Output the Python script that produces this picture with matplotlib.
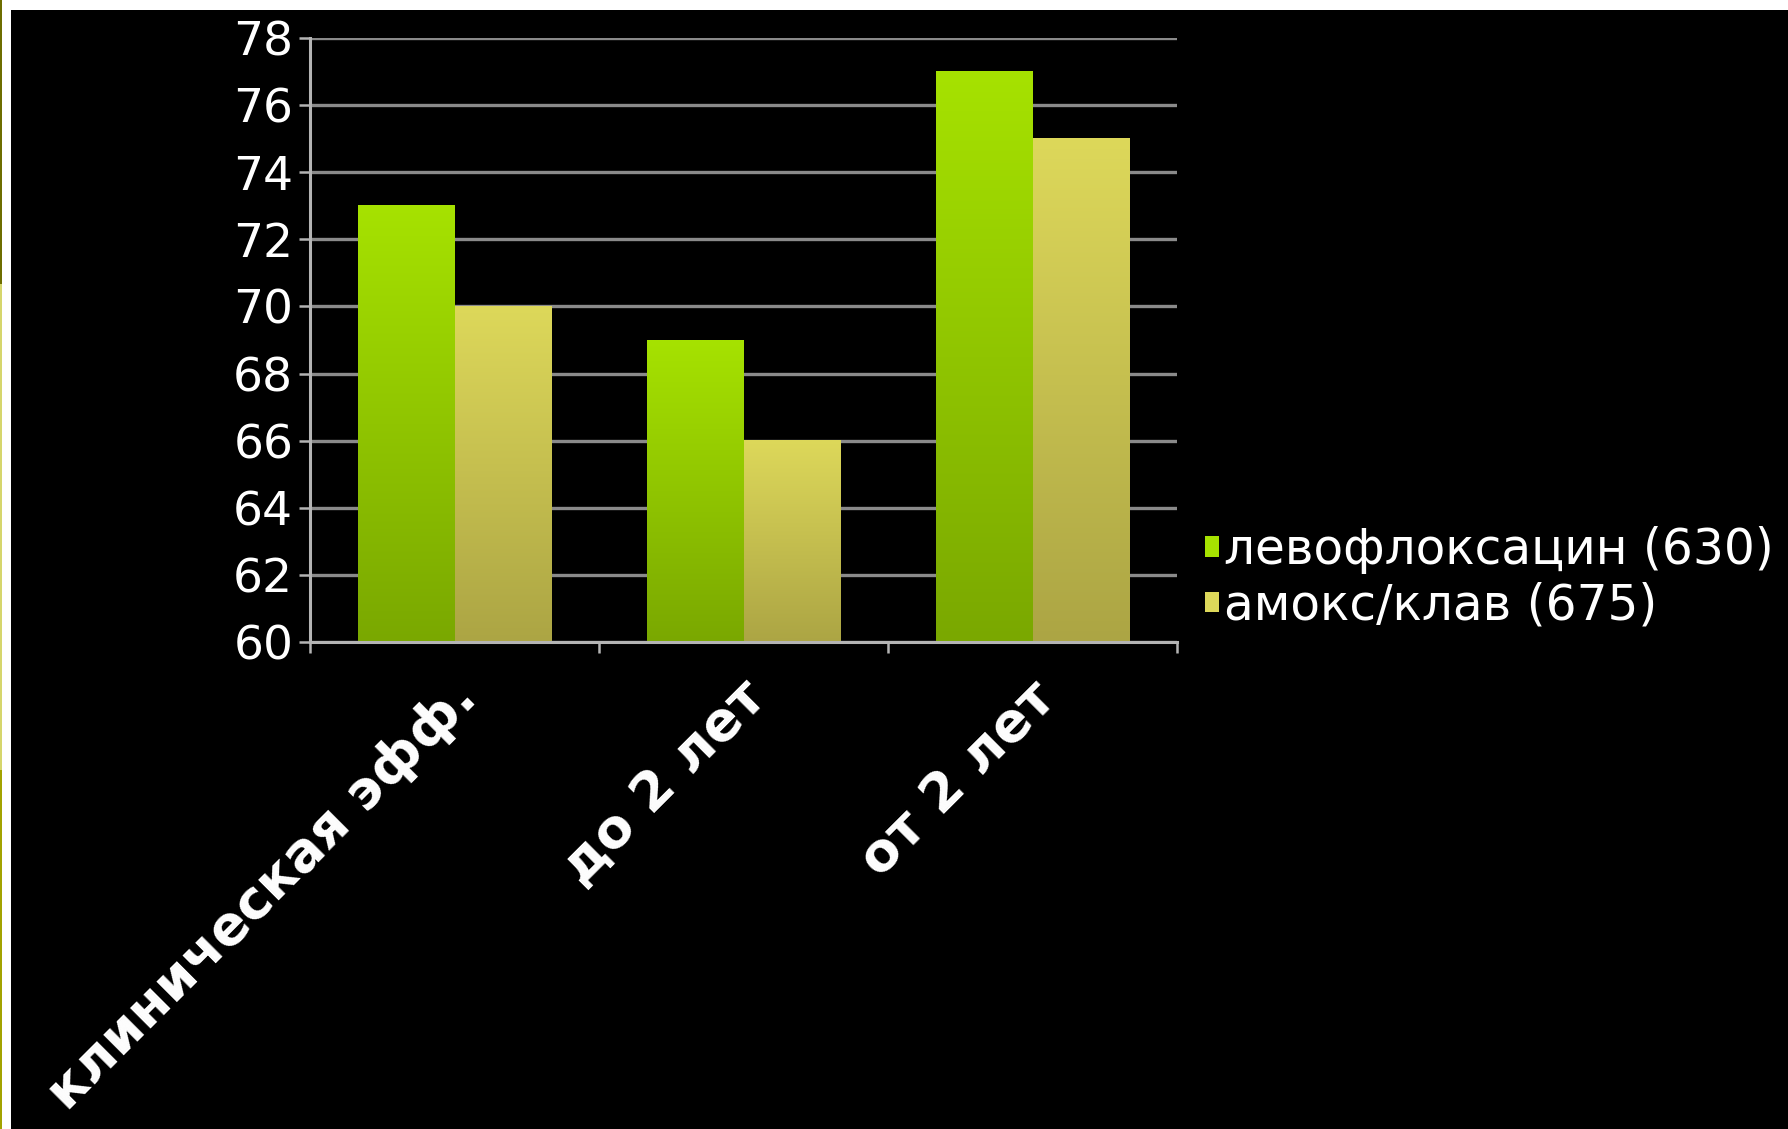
import matplotlib
matplotlib.use("Agg")
import matplotlib.pyplot as plt
import numpy as np
from matplotlib.colors import LinearSegmentedColormap
from matplotlib.patches import Patch, Rectangle
from matplotlib.transforms import ScaledTranslation

categories = ["клиническая эфф.", "до 2 лет", "от 2 лет"]
series_names = ["левофлоксацин (630)", "амокс/клав (675)"]
levo_values = [73, 69, 77]
amox_values = [70, 66, 75]
y_ticks = [60, 62, 64, 66, 68, 70, 72, 74, 76, 78]

# bottom/top colours of the vertical bar gradients
green_shades = ("#7aa800", "#a6e200")
yellow_shades = ("#aca544", "#ddd85a")

plt.rcParams["font.family"] = ["DejaVu Sans"]

fig = plt.figure(figsize=(17.88, 11.29), dpi=100, facecolor="black")

# slide frame remnants along the top and left edges
fig.patches.append(Rectangle((0, 1 - 10 / 1129), 1, 10 / 1129, transform=fig.transFigure,
                             facecolor="white", edgecolor="none", zorder=0))
fig.patches.append(Rectangle((0, 0), 11 / 1788, 1, transform=fig.transFigure,
                             facecolor="white", edgecolor="none", zorder=0))
for y0, y1, col in [(0, 359, "#a3a300"), (359, 845, "#d6d66c"), (845, 1129, "#6e6e00")]:
    fig.patches.append(Rectangle((0, y0 / 1129), 2 / 1788, (y1 - y0) / 1129,
                                 transform=fig.transFigure, facecolor=col,
                                 edgecolor="none", zorder=1))

ax = fig.add_axes([310 / 1788, 1 - 642 / 1129, 867 / 1788, 604 / 1129])
ax.set_facecolor("black")

x = np.arange(len(categories))
width = 1 / 3
bars_levo = ax.bar(x - width / 2, levo_values, width, facecolor="none",
                   edgecolor="none", label=series_names[0])
bars_amox = ax.bar(x + width / 2, amox_values, width, facecolor="none",
                   edgecolor="none", label=series_names[1])

# fill each bar with a vertical gradient
grad = np.linspace(0, 1, 256).reshape(-1, 1)
for bars, shades in [(bars_levo, green_shades), (bars_amox, yellow_shades)]:
    cmap = LinearSegmentedColormap.from_list("bar", list(shades))
    for rect in bars:
        x0 = rect.get_x()
        x1 = x0 + rect.get_width()
        top = rect.get_height()
        ax.imshow(grad, extent=[x0, x1, 60, top], origin="lower", cmap=cmap,
                  aspect="auto", zorder=2, interpolation="bilinear")

ax.set_xlim(-0.5, 2.5)
ax.set_ylim(60, 78)

ax.set_yticks(y_ticks)
ax.yaxis.grid(True, color="#8a8a8a", linewidth=2.4)
ax.set_axisbelow(True)
ax.tick_params(axis="y", colors="#b4b4b4", labelcolor="white", labelsize=34,
               length=8, width=1.8, pad=4, direction="out")

ax.set_xticks([-0.5, 0.5, 1.5, 2.5])
ax.set_xticklabels([])
ax.set_xticks(x, minor=True)
ax.set_xticklabels(categories, minor=True, rotation=45, ha="right", va="top",
                   rotation_mode="anchor", fontsize=39, fontweight="bold", color="white")
ax.tick_params(axis="x", which="major", colors="#b4b4b4", length=8, width=1.8, direction="out")
ax.tick_params(axis="x", which="minor", length=0, pad=21)
shift = ScaledTranslation(-4 / 100, 0, fig.dpi_scale_trans)
for lbl in ax.get_xticklabels(minor=True):
    lbl.set_transform(lbl.get_transform() + shift)

for side in ("top", "right"):
    ax.spines[side].set_visible(False)
for side in ("left", "bottom"):
    ax.spines[side].set_color("#b4b4b4")
    ax.spines[side].set_linewidth(2.2)
    ax.spines[side].set_zorder(3)

handles = [Patch(facecolor=green_shades[1], edgecolor="none"),
           Patch(facecolor=yellow_shades[1], edgecolor="none")]
leg = fig.legend(handles, series_names, loc="center left",
                 bbox_to_anchor=(1205 / 1788, 1 - 578 / 1129), frameon=False,
                 fontsize=35, labelcolor="white", handlelength=0.28, handleheight=0.28,
                 handletextpad=0.12, labelspacing=0.15, borderpad=0, borderaxespad=0)

fig.savefig("out.png", dpi=100, facecolor="black")
